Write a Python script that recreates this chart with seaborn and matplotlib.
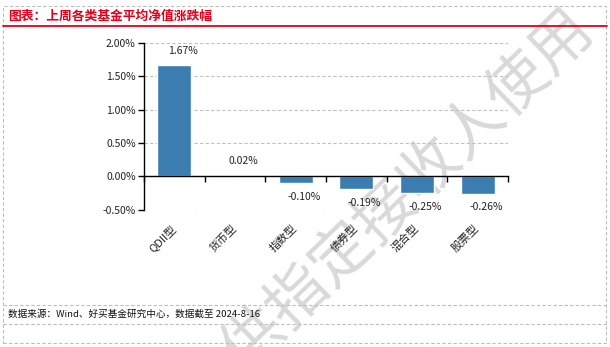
import matplotlib
matplotlib.use("Agg")
import matplotlib.pyplot as plt
import seaborn as sns
import pandas as pd
from matplotlib.lines import Line2D
from matplotlib.patches import Rectangle
from matplotlib.ticker import FixedLocator, FuncFormatter

categories = ["QDII型", "货币型", "指数型", "债券型", "混合型", "股票型"]
values = [1.67, 0.02, -0.10, -0.19, -0.25, -0.26]
y_ticks = [-0.5, 0.0, 0.5, 1.0, 1.5, 2.0]
title = "图表：上周各类基金平均净值涨跌幅"
source = "数据来源：Wind、好买基金研究中心，数据截至 2024-8-16"
watermark = "仅供指定接收人使用"

sns.set_theme(style="white")
plt.rcParams["font.family"] = ["Noto Sans CJK SC", "DejaVu Sans"]
plt.rcParams["axes.unicode_minus"] = False

df = pd.DataFrame({"cat": categories, "val": values})

fig = plt.figure(figsize=(6.1, 3.47), dpi=100)
fig.patch.set_facecolor("white")
ax = fig.add_axes([144 / 610, 1 - 209.5 / 347, (508 - 144) / 610, (209.5 - 43) / 347])
ax.set_facecolor("none")

sns.barplot(data=df, x="cat", y="val", color="#3B7DB1", saturation=1,
            width=0.56, errorbar=None, ax=ax, zorder=3)

ax.set_xlim(-0.5, len(categories) - 0.5)
ax.set_ylim(-0.5, 2.0)
ax.set_xlabel("")
ax.set_ylabel("")

# y axis
ax.yaxis.set_major_locator(FixedLocator(y_ticks))
ax.yaxis.set_major_formatter(FuncFormatter(lambda v, p: f"{v:.2f}%"))
ax.tick_params(axis="y", which="major", left=True, length=4, width=1, color="black",
               labelsize=7.5, pad=2, labelcolor="#222222")
ax.grid(axis="y", linestyle=(0, (3, 2)), color="#c0c0c0", linewidth=0.8, zorder=0)
ax.grid(axis="x", visible=False)

# spines
for s in ["top", "right"]:
    ax.spines[s].set_visible(False)
ax.spines["left"].set_color("black")
ax.spines["left"].set_linewidth(1)
ax.spines["bottom"].set_position(("data", 0))
ax.spines["bottom"].set_color("black")
ax.spines["bottom"].set_linewidth(1)
ax.spines["bottom"].set_zorder(4)

# x axis: boundary ticks on zero line, labels below plot
ax.xaxis.set_minor_locator(FixedLocator([i - 0.5 for i in range(len(categories) + 1)]))
ax.tick_params(axis="x", which="minor", bottom=True, length=4, width=1, color="black")
ax.tick_params(axis="x", which="major", bottom=True, length=0, pad=36, labelsize=8)
for lab in ax.get_xticklabels():
    lab.set_rotation(45)
    lab.set_ha("right")
    lab.set_va("center")
    lab.set_rotation_mode("anchor")
    lab.set_color("#222222")

# bar labels
for i, v in enumerate(values):
    off = 10 if v >= 0 else -10
    ax.annotate(f"{v:.2f}%", (i, v), xytext=(6, off), textcoords="offset points",
                ha="center", va="center", fontsize=7.5, color="#222222", zorder=5)

# frame decorations
W, H = 610, 347
fig.add_artist(Rectangle((3 / W, 1 - 343 / H), 603 / W, 337 / H, transform=fig.transFigure,
                         fill=False, edgecolor="#bdbdbd", linewidth=0.8, linestyle=(0, (3, 2))))
fig.add_artist(Line2D([3 / W, 607 / W], [1 - 26 / H, 1 - 26 / H], transform=fig.transFigure,
                      color="#e0001b", linewidth=1.3))
for yy in [305, 324]:
    fig.add_artist(Line2D([3 / W, 606 / W], [1 - yy / H, 1 - yy / H], transform=fig.transFigure,
                          color="#bdbdbd", linewidth=0.8, linestyle=(0, (3, 2))))
fig.text(8 / W, 1 - 16 / H, title, color="#e0001b", fontsize=9.2, fontweight="bold",
         ha="left", va="center")
fig.text(8 / W, 1 - 314 / H, source, color="#111111", fontsize=6.9, ha="left", va="center")

# watermark
fig.text(387 / W, 1 - 212 / H, watermark, color="#d9d9d9", fontsize=44, rotation=44,
         ha="center", va="center", zorder=-1)

fig.savefig("out.png", dpi=100, facecolor="white")
